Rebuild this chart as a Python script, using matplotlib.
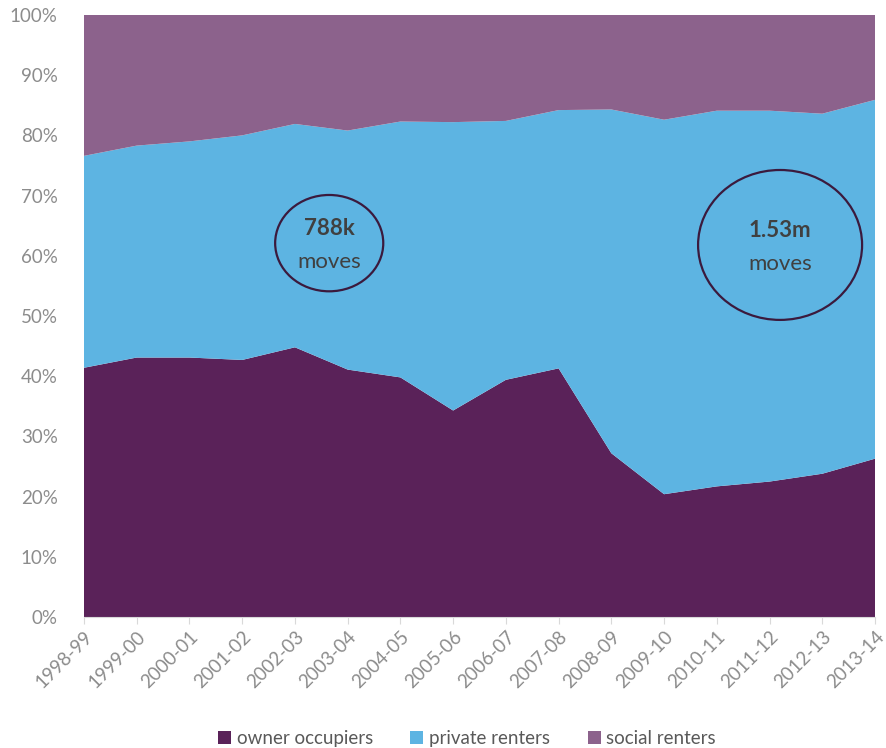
import matplotlib
matplotlib.use("Agg")
import matplotlib.pyplot as plt
from matplotlib.patches import Ellipse, Patch
from matplotlib.ticker import PercentFormatter
import numpy as np

plt.rcParams["font.family"] = ["Lato", "DejaVu Sans"]

# Share of household moves by tenure (%)
years = ["1998-99", "1999-00", "2000-01", "2001-02", "2002-03", "2003-04",
         "2004-05", "2005-06", "2006-07", "2007-08", "2008-09", "2009-10",
         "2010-11", "2011-12", "2012-13", "2013-14"]
owner = [41.4, 43.1, 43.1, 42.7, 44.8, 41.1, 39.8, 34.3, 39.4, 41.3,
         27.2, 20.4, 21.7, 22.5, 23.8, 26.3]
private = [35.2, 35.2, 35.9, 37.3, 37.1, 39.7, 42.5, 47.9, 43.0, 42.9,
           57.1, 62.2, 62.4, 61.6, 59.8, 59.6]
social = [23.4, 21.7, 21.0, 20.0, 18.1, 19.2, 17.7, 17.8, 17.6, 15.8,
          15.7, 17.4, 15.9, 15.9, 16.4, 14.1]

series_names = ["owner occupiers", "private renters", "social renters"]
colors = ["#5a2259", "#5db4e2", "#8c628c"]

fig = plt.figure(figsize=(8.86, 7.48), dpi=100)
ax = fig.add_axes([0.0948, 0.1751, 0.8928, 0.8049])

x = np.arange(len(years))
ax.stackplot(x, owner, private, social, colors=colors, linewidth=0)

ax.set_xlim(0, len(years) - 1)
ax.set_ylim(0, 100)
ax.set_yticks(np.arange(0, 101, 10))
ax.yaxis.set_major_formatter(PercentFormatter(decimals=0))
ax.set_xticks(x)
ax.set_xticklabels(years, rotation=45, ha="right", rotation_mode="anchor")

for side in ["top", "right", "left"]:
    ax.spines[side].set_visible(False)
ax.spines["bottom"].set_color("#d9d9d9")
ax.tick_params(axis="x", colors="#d9d9d9", labelcolor="#8c8c8c",
               length=5, labelsize=13.5, pad=3)
ax.tick_params(axis="y", length=0, labelcolor="#8c8c8c", labelsize=13.5,
               pad=19)

# Annotations for total number of moves
notes = [(4.65, 62.1, 2.05, 16.0, "788k"), (13.2, 61.8, 3.11, 24.9, "1.53m")]
for cx, cy, w, h, label in notes:
    ax.add_patch(Ellipse((cx, cy), w, h, facecolor="none",
                         edgecolor="#3b1a3d", linewidth=1.6))
    ax.text(cx, cy + 2.4, label, ha="center", va="center", fontsize=16,
            fontweight="bold", color="#404040")
    ax.text(cx, cy - 3.1, "moves", ha="center", va="center", fontsize=16,
            color="#404040")

handles = [Patch(facecolor=c, edgecolor="none") for c in colors]
fig.legend(handles, series_names, loc="center", bbox_to_anchor=(0.527, 0.013),
           ncol=3, frameon=False, fontsize=13.5, handlelength=0.7,
           handleheight=0.7, handletextpad=0.3, columnspacing=2.0,
           labelcolor="#595959")

fig.savefig("out.png", dpi=100)
